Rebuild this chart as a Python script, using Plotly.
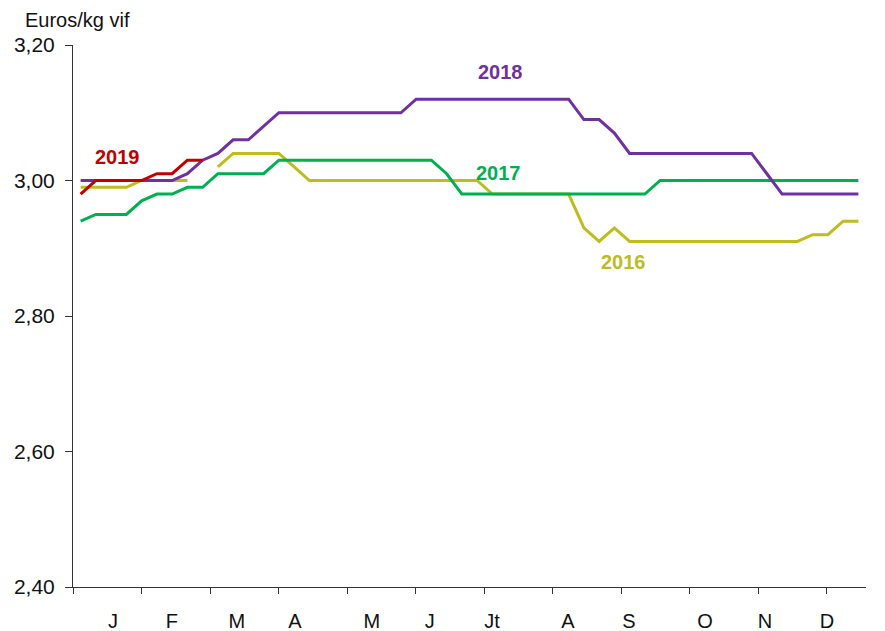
import plotly.graph_objects as go

# Week numbers 1..52
weeks = list(range(1, 53))

s2016 = ([2.99] * 4 + [3.00] * 4 + [None] + [3.02] + [3.04] * 4 + [3.02]
         + [3.00] * 12 + [2.98] * 6 + [2.93, 2.91, 2.93] + [2.91] * 12
         + [2.92, 2.92, 2.94, 2.94])
s2017 = ([2.94] + [2.95] * 3 + [2.97] + [2.98] * 2 + [2.99] * 2 + [3.01] * 4
         + [3.03] * 11 + [3.01] + [2.98] * 13 + [3.00] * 14)
s2018 = ([3.00] * 7 + [3.01, 3.03, 3.04, 3.06, 3.06, 3.08] + [3.10] * 9
         + [3.12] * 11 + [3.09, 3.09, 3.07] + [3.04] * 9 + [3.01] + [2.98] * 6)
s2019 = [2.98, 3.00, 3.00, 3.00, 3.00, 3.01, 3.01, 3.03, 3.03]

month_labels = ["J", "F", "M", "A", "M", "J", "Jt", "A", "S", "O", "N", "D"]
month_label_pos = [3.12, 6.99, 11.25, 15.06, 20.1, 23.9, 27.98, 32.96, 36.96, 41.94, 45.88, 49.94]
month_bounds = [0.5 + 4.492 * k for k in range(12)]

y_ticks = [2.40, 2.60, 2.80, 3.00, 3.20]
y_tick_text = ["2,40", "2,60", "2,80", "3,00", "3,20"]

series = [
    ("2016", s2016, "#BDBD1E", 36.57, 2.880),
    ("2017", s2017, "#00B050", 28.37, 3.011),
    ("2018", s2018, "#7030A0", 28.5, 3.160),
    ("2019", s2019, "#C00000", 3.39, 3.035),
]

REG = "Liberation Sans, Arial, sans-serif"

fig = go.Figure()
for name, vals, color, lx, ly in series:
    fig.add_trace(go.Scatter(
        x=weeks[:len(vals)], y=vals, mode="lines", name=name,
        line=dict(color=color, width=3), connectgaps=False,
        showlegend=False, hoverinfo="skip"))
    fig.add_annotation(x=lx, y=ly, text=f"<b>{name}</b>", showarrow=False,
                       font=dict(family=REG, size=20, color=color),
                       xanchor="center", yanchor="middle")

fig.add_annotation(xref="paper", yref="paper", x=-0.063, y=1.0, yshift=25,
                   text="Euros/kg vif", showarrow=False, xanchor="left", yanchor="middle",
                   font=dict(family=REG, size=20, color="#111"))

# page body adds an 8px offset, so the figure is sized 8px smaller
fig.update_layout(
    width=877, height=623,
    margin=dict(l=65, r=19, t=37, b=44, autoexpand=False),
    paper_bgcolor="white", plot_bgcolor="white",
    xaxis=dict(
        range=[0.5, 52.5], showgrid=False, zeroline=False, automargin=False,
        showline=True, linecolor="#333", linewidth=1,
        tickmode="array", tickvals=month_label_pos, ticktext=month_labels,
        ticks="", ticklabelstandoff=16,
        tickfont=dict(family=REG, size=20, color="#111"),
        minor=dict(tickmode="array", tickvals=month_bounds, ticks="outside",
                   ticklen=6, tickcolor="#333", tickwidth=1, showgrid=False),
    ),
    yaxis=dict(
        range=[2.40, 3.20], showgrid=False, zeroline=False, automargin=False,
        showline=True, linecolor="#333", linewidth=1,
        tickmode="array", tickvals=y_ticks, ticktext=y_tick_text,
        ticks="outside", ticklen=7, tickcolor="#333",
        ticklabelstandoff=6,
        tickfont=dict(family=REG, size=21, color="#111"),
    ),
)

fig.write_html("out.html")
